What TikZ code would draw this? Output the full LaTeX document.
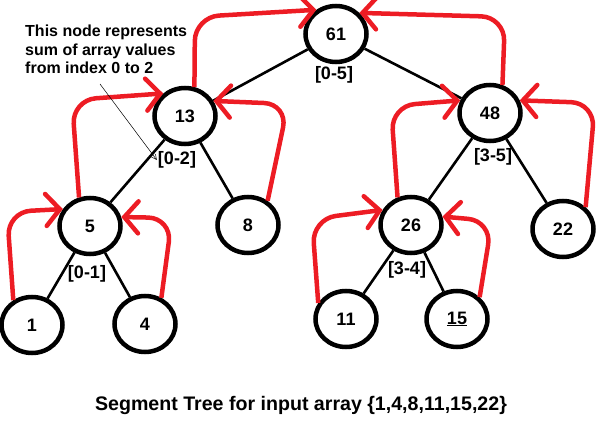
\documentclass[tikz,border=0pt]{standalone}
\usepackage{fontspec}
\setmainfont{Liberation Sans}
\usetikzlibrary{shapes.geometric,arrows.meta}
\definecolor{arrowred}{RGB}{237,28,36}
\tikzset{
  treenode/.style={ellipse, draw=black, line width=4.5pt, fill=white,
    minimum width=61pt, minimum height=56pt, inner sep=0pt,
    font=\fontsize{18}{21}\selectfont\bfseries},
  rangelbl/.style={font=\fontsize{18}{21}\selectfont\bfseries, inner sep=1pt},
  treeedge/.style={line width=2.6pt, black},
  backarrow/.style={draw=arrowred, line width=4.5pt, rounded corners=24pt,
    -{Straight Barb[length=14pt, width=32pt, line cap=round]}},
  pointer/.style={line width=0.5pt, -{Straight Barb[length=5pt, width=5pt]}}
}
\begin{document}
\begin{tikzpicture}[x=1pt, y=-1pt]
\useasboundingbox (0,0) rectangle (608,428);

% tree nodes
\node[treenode] (n61) at (336,34)  {61};
\node[treenode] (n13) at (185,116) {13};
\node[treenode] (n48) at (490,113) {48};
\node[treenode] (n5)  at (90,226)  {5};
\node[treenode] (n8)  at (248,225) {8};
\node[treenode] (n26) at (411,225) {26};
\node[treenode] (n22) at (563,229) {22};
\node[treenode] (n1)  at (32,325)  {1};
\node[treenode] (n4)  at (145,324) {4};
\node[treenode] (n11) at (346,319) {11};
\node[treenode] (n15) at (457,319) {\underline{15}};

% segment ranges
\node[rangelbl] (l05) at (334,75)  {[0-5]};
\node[rangelbl] (l02) at (177,160) {[0-2]};
\node[rangelbl] (l35) at (493,157) {[3-5]};
\node[rangelbl] (l01) at (87,274)  {[0-1]};
\node[rangelbl] (l34) at (407,270) {[3-4]};

% tree edges
\draw[treeedge] (n61) -- (n13);
\draw[treeedge] (n61) -- (n48);
\draw[treeedge] (n13) -- (n5);
\draw[treeedge] (n13) -- (n8);
\draw[treeedge] (n48) -- (n26);
\draw[treeedge] (n48) -- (n22);
\draw[treeedge] (n5) -- (n1);
\draw[treeedge] (n5) -- (n4);
\draw[treeedge] (n26) -- (n11);
\draw[treeedge] (n26) -- (n15);

% values flowing up from children to parents
\draw[backarrow] (n13.72)  -- (195,17)  -- (n61.129);
\draw[backarrow] (n48.66)  -- (505,17)  -- (n61.42);
\draw[backarrow] (n5.111)  -- (72,100)  -- (n13.134);
\draw[backarrow] (n8.51)   -- (288,104) -- (n13.28);
\draw[backarrow] (n1.127)  -- (7,212)   -- (n5.148);
\draw[backarrow] (n4.58)   -- (172,218) -- (n5.16);
\draw[backarrow] (n26.116) -- (391,106) -- (n48.157);
\draw[backarrow] (n22.44)  -- (595,103) -- (n48.23);
\draw[backarrow] (n11.150) -- (312,219) -- (n26.152);
\draw[backarrow] (n15.44)  -- (492,221) -- (n26.15);

% annotation
\node[anchor=north west, align=left, inner sep=0pt,
      font=\fontsize{16}{18.5}\selectfont\bfseries] (note) at (25,25)
  {This node represents\\sum of array values\\from index 0 to 2};
\coordinate (ptr) at (100,84);
\draw[pointer] (ptr) -- (l02.west);

% caption
\node[font=\fontsize{19.6}{23}\selectfont\bfseries] (caption) at (301,405)
  {Segment Tree for input array \{1,4,8,11,15,22\}};
\end{tikzpicture}
\end{document}
